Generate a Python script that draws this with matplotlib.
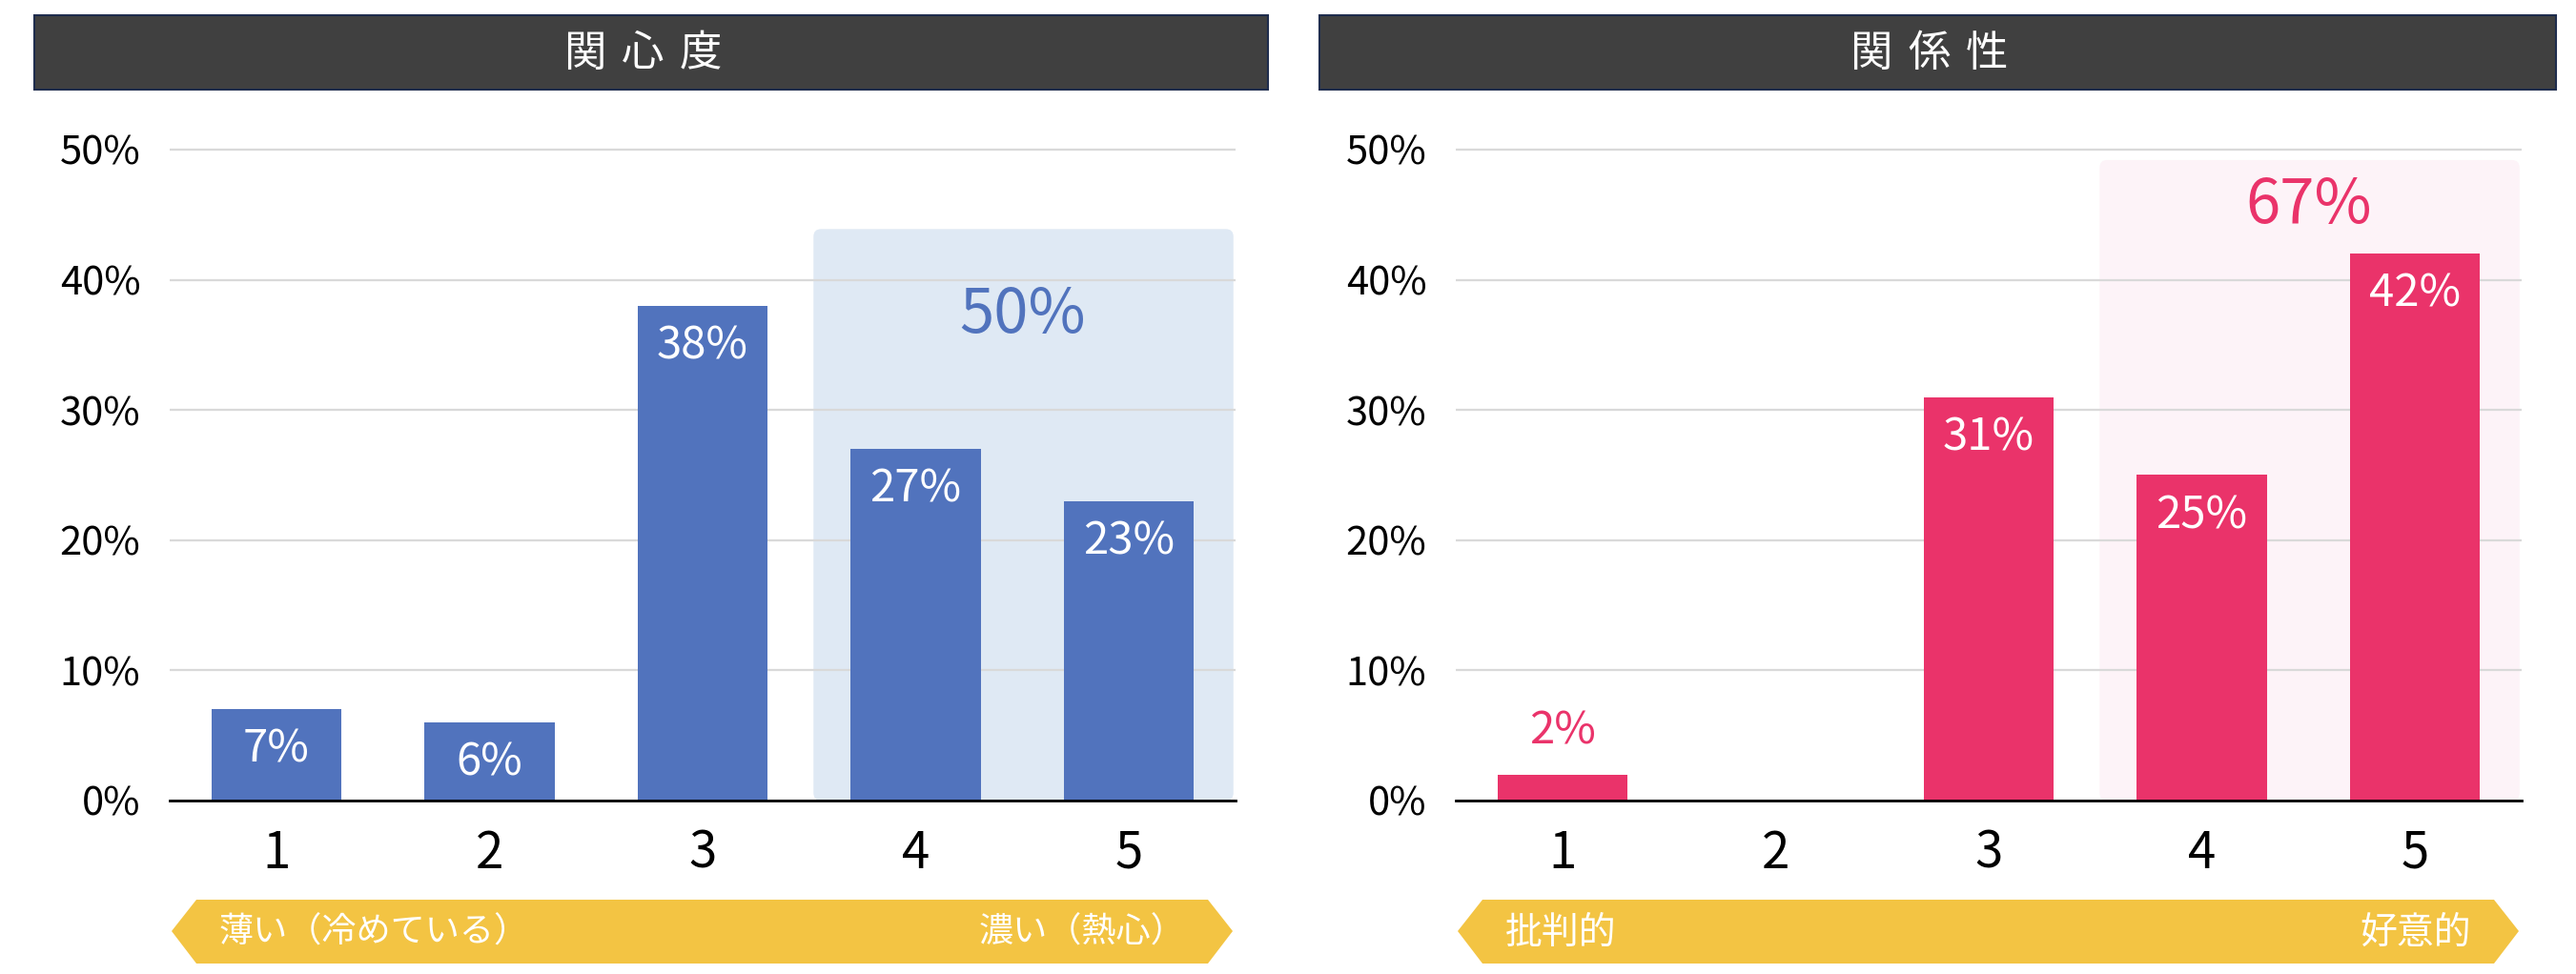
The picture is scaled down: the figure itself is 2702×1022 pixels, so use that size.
import matplotlib.pyplot as plt
from matplotlib.patches import Rectangle, FancyBboxPatch, Polygon

plt.rcParams['font.family'] = ['Noto Sans CJK JP', 'DejaVu Sans']

# data
categories = [1, 2, 3, 4, 5]
interest_values = [7, 6, 38, 27, 23]
relation_values = [2, 0, 31, 25, 42]
interest_total = 50      # share of answers 4 + 5
relation_total = 67
y_ticks = [0, 10, 20, 30, 40, 50]
titles = ['関心度', '関係性']
low_labels = ['薄い（冷めている）', '批判的']
high_labels = ['濃い（熱心）', '好意的']

W, H = 2702, 1022


def fx(px):
    return px / W


def fy(py):
    return 1 - py / H


fig = plt.figure(figsize=(W / 100, H / 100), dpi=100)

panels = [
    dict(values=interest_values, total=interest_total, color='#5173bd', light='#dfe9f4',
         x0=178, x1=1296, bar_x0=36, bar_x1=1330, box_top=43.9, total_y=37.3,
         low_size=26, high_size=26),
    dict(values=relation_values, total=relation_total, color='#ea336a', light='#fdf3f8',
         x0=1527, x1=2645, bar_x0=1384, bar_x1=2681, box_top=49.2, total_y=45.7,
         low_size=28, high_size=28),
]

zero_px, fifty_px = 840, 157
unit = (zero_px - fifty_px) / 50
ytop = 51

for i, p in enumerate(panels):
    top_px = zero_px - ytop * unit
    ax = fig.add_axes([fx(p['x0']), fy(zero_px), (p['x1'] - p['x0']) / W, (zero_px - top_px) / H])
    ax.set_xlim(0.5, 5.5)
    ax.set_ylim(0, ytop)

    ax.bar(categories, p['values'], width=0.61, color=p['color'], zorder=2)

    # highlighted group 4-5
    xu = (p['x1'] - p['x0']) / 5
    box = FancyBboxPatch((3.52, 0), 1.97, p['box_top'],
                         boxstyle='round,pad=0,rounding_size=%f' % (8 / xu),
                         mutation_aspect=xu / unit, facecolor=p['light'],
                         edgecolor='none', zorder=0.3)
    ax.add_patch(box)
    ax.text(4.5, p['total_y'], f"{p['total']}%", ha='center', va='center',
            fontsize=47, color=p['color'], zorder=3)

    for c, v in zip(categories, p['values']):
        if v == 0:
            continue
        if v >= 5:
            ax.text(c, v - 3.1, f'{v}%', ha='center', va='center', fontsize=34,
                    color='white', zorder=3)
        else:
            ax.text(c, v + 3.3, f'{v}%', ha='center', va='center', fontsize=34,
                    color=p['color'], zorder=3)

    ax.set_yticks(y_ticks)
    ax.set_yticklabels([f'{t}%' for t in y_ticks])
    ax.set_xticks(categories)
    ax.set_xticklabels([str(c) for c in categories])
    ax.tick_params(axis='y', length=0, pad=22, labelsize=30)
    ax.tick_params(axis='x', length=0, pad=20, labelsize=38)
    ax.yaxis.grid(True, color='#d9d9d9', lw=1.6)
    ax.set_axisbelow(True)
    for s in ['top', 'right', 'left']:
        ax.spines[s].set_visible(False)
    ax.spines['bottom'].set_color('black')
    ax.spines['bottom'].set_linewidth(2)
    ax.spines['bottom'].set_zorder(4)
    ax.patch.set_alpha(0)

    # title bar
    fig.patches.append(Rectangle((fx(p['bar_x0']), fy(94)), (p['bar_x1'] - p['bar_x0']) / W,
                                 78 / H, transform=fig.transFigure, facecolor='#404040',
                                 edgecolor='#1f2d4d', lw=1.5))
    cx = (p['bar_x0'] + p['bar_x1']) / 2 - 9
    for k, ch in enumerate(titles[i]):
        fig.text(fx(cx + (k - 1) * 61), fy(56), ch, ha='center', va='center',
                 fontsize=32, color='white')

    # yellow arrow bar
    a0, a1 = p['x0'] + 2, p['x1'] - 3
    yt, yb, ym = 944, 1011, 977
    pts = [(a0, ym), (a0 + 26, yt), (a1 - 26, yt), (a1, ym), (a1 - 26, yb), (a0 + 26, yb)]
    fig.patches.append(Polygon([(fx(x), fy(y)) for x, y in pts], closed=True,
                               transform=fig.transFigure, facecolor='#f3c443',
                               edgecolor='none'))
    fig.text(fx(a0 + 50), fy(979), low_labels[i], ha='left', va='center',
             fontsize=p['low_size'], color='white')
    fig.text(fx(a1 - 50), fy(979), high_labels[i], ha='right', va='center',
             fontsize=p['high_size'], color='white')

fig.savefig('out.png', dpi=100, facecolor='white')
